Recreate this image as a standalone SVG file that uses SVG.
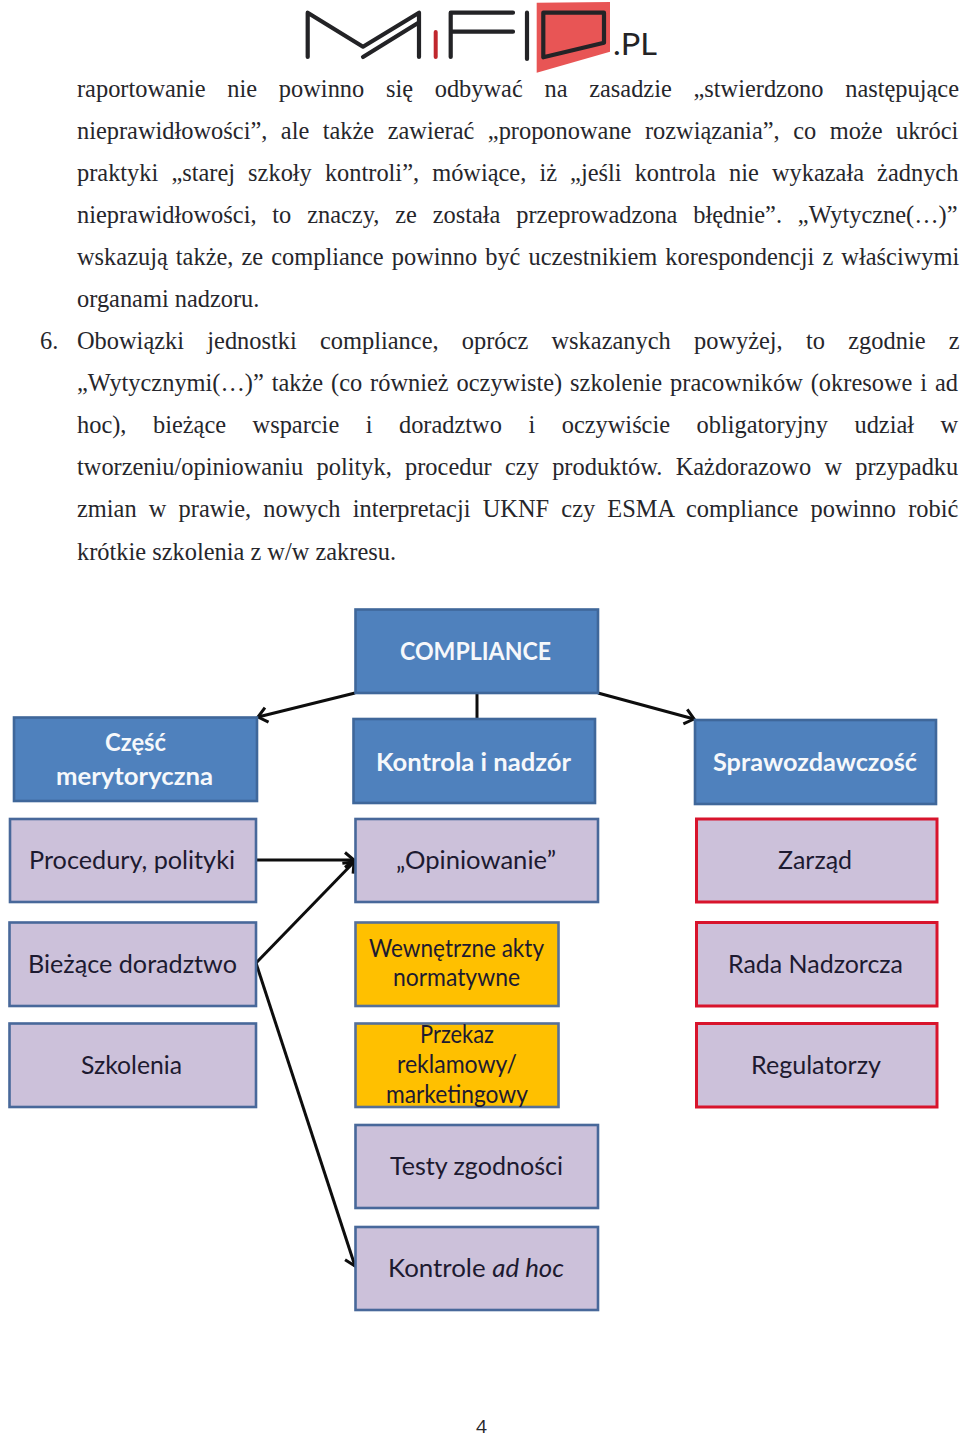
<svg xmlns="http://www.w3.org/2000/svg" width="960" height="1436" viewBox="0 0 960 1436">
<style>
.b{font-family:"Liberation Serif","Times New Roman",serif;font-size:24.4px;fill:#26262b}
.n rect{stroke-width:2.6}
.blue rect{fill:#4f81bd;stroke:#3f679a}
.blue text{fill:#f6f8fb;font-weight:700}
.lil rect{fill:#ccc1da;stroke:#48689a}
.red rect{fill:#ccc1da;stroke:#d8142c;stroke-width:3}
.org rect{fill:#ffc000;stroke:#56709a}
.n text{font-family:Lato,"Open Sans",sans-serif;font-size:25px;fill:#1d1a30}
.blue text{fill:#f6f8fb}
#connectors line{stroke:#0d0d0d;stroke-width:3;fill:none}
.logo{fill:none;stroke:#232326;stroke-width:4.2;stroke-linecap:round;stroke-linejoin:round}
</style>
<defs>
<marker id="a" markerUnits="userSpaceOnUse" markerWidth="20" markerHeight="20" refX="15" refY="10" orient="auto"><path d="M6 2.5L15 10L6 17.5" fill="none" stroke="#0d0d0d" stroke-width="3"/></marker>
</defs>
<rect width="960" height="1436" fill="#fff"/>
<g id="logo">
<polygon points="536.7,2.7 610,2 610,51.7 536.7,72.7" fill="#e85555"/>
<path class="logo" d="M307.7 57V12.7L363 46.7L419 12.7V57M363 57L418 23"/>
<path d="M435.7 32V57" fill="none" stroke="#c0272d" stroke-width="4" stroke-linecap="round"/>
<path class="logo" d="M450.7 57V12.7H513M450.7 31.7H513M527 12.7V59"/>
<path class="logo" d="M543.3 12.7H604V42.7L543.3 57.3Z"/>
<text x="613" y="54.500" font-family="Lato,'Open Sans',sans-serif" font-size="30" fill="#232326" textLength="44" lengthAdjust="spacingAndGlyphs">.PL</text>
</g>
<g id="body">
<text class="b" x="77" y="97" word-spacing="15.6">raportowanie nie powinno się odbywać na zasadzie „stwierdzono następujące</text>
<text class="b" x="77" y="139" word-spacing="7.4">nieprawidłowości”, ale także zawierać „proponowane rozwiązania”, co może ukróci</text>
<text class="b" x="77" y="181" word-spacing="7">praktyki „starej szkoły kontroli”, mówiące, iż „jeśli kontrola nie wykazała żadnych</text>
<text class="b" x="77" y="223" word-spacing="9.75">nieprawidłowości, to znaczy, ze została przeprowadzona błędnie”. „Wytyczne(…)”</text>
<text class="b" x="77" y="265" word-spacing="2">wskazują także, ze compliance powinno być uczestnikiem korespondencji z właściwymi</text>
<text class="b" x="77" y="307">organami nadzoru.</text>
<text class="b" x="40" y="349">6.</text>
<text class="b" x="77" y="349" word-spacing="17.2">Obowiązki jednostki compliance, oprócz wskazanych powyżej, to zgodnie z</text>
<text class="b" x="77" y="391" word-spacing="1.8">„Wytycznymi(…)” także (co również oczywiste) szkolenie pracowników (okresowe i ad</text>
<text class="b" x="77" y="433" word-spacing="20.4">hoc), bieżące wsparcie i doradztwo i oczywiście obligatoryjny udział w</text>
<text class="b" x="77" y="475" word-spacing="7.2">tworzeniu/opiniowaniu polityk, procedur czy produktów. Każdorazowo w przypadku</text>
<text class="b" x="77" y="517" word-spacing="6.1">zmian w prawie, nowych interpretacji UKNF czy ESMA compliance powinno robić</text>
<text class="b" x="77" y="559.500">krótkie szkolenia z w/w zakresu.</text>
<text x="476" y="1432.500" font-family="'Open Sans',sans-serif" font-size="19" fill="#26262b">4</text>
</g>
<g id="connectors">
<line x1="355" y1="693" x2="258" y2="717" marker-end="url(#a)"/>
<line x1="477" y1="693" x2="477" y2="718"/>
<line x1="598" y1="693" x2="694" y2="719" marker-end="url(#a)"/>
<line x1="256" y1="860" x2="354" y2="860" marker-end="url(#a)"/>
<line x1="256" y1="963" x2="354" y2="862" marker-end="url(#a)"/>
<line x1="256" y1="963" x2="355" y2="1266" marker-end="url(#a)"/>
</g>
<g id="compliance" class="n blue"><rect x="355.500" y="609.500" width="242.500" height="83.500"/><text x="400" y="660" textLength="151" lengthAdjust="spacingAndGlyphs">COMPLIANCE</text></g>
<g id="czesc" class="n blue"><rect x="14" y="717.500" width="243" height="83.500"/><text x="105" y="751" textLength="61" lengthAdjust="spacingAndGlyphs">Część</text><text x="56" y="785" textLength="157" lengthAdjust="spacingAndGlyphs">merytoryczna</text></g>
<g id="kontrola" class="n blue"><rect x="353.500" y="719" width="241.500" height="84"/><text x="376" y="771" textLength="195" lengthAdjust="spacingAndGlyphs">Kontrola i nadzór</text></g>
<g id="sprawozdawczosc" class="n blue"><rect x="695" y="720" width="241" height="84"/><text x="713" y="771" textLength="204" lengthAdjust="spacingAndGlyphs">Sprawozdawczość</text></g>
<g id="procedury" class="n lil"><rect x="10" y="819" width="246" height="83"/><text x="29" y="869" textLength="206" lengthAdjust="spacingAndGlyphs">Procedury, polityki</text></g>
<g id="opiniowanie" class="n lil"><rect x="355.500" y="819" width="242.500" height="83"/><text x="396" y="869" textLength="160" lengthAdjust="spacingAndGlyphs">„Opiniowanie”</text></g>
<g id="zarzad" class="n red"><rect x="696.500" y="819" width="240.500" height="83"/><text x="778" y="869" textLength="74" lengthAdjust="spacingAndGlyphs">Zarząd</text></g>
<g id="doradztwo" class="n lil"><rect x="9.500" y="922.500" width="246.500" height="83.500"/><text x="28" y="973" textLength="209" lengthAdjust="spacingAndGlyphs">Bieżące doradztwo</text></g>
<g id="akty" class="n org"><rect x="355.500" y="922.500" width="203" height="83.500"/><text x="369" y="957" textLength="175" lengthAdjust="spacingAndGlyphs">Wewnętrzne akty</text><text x="393" y="986" textLength="127" lengthAdjust="spacingAndGlyphs">normatywne</text></g>
<g id="rada" class="n red"><rect x="696.500" y="922.500" width="240.500" height="83.500"/><text x="728" y="973" textLength="175" lengthAdjust="spacingAndGlyphs">Rada Nadzorcza</text></g>
<g id="szkolenia" class="n lil"><rect x="9.500" y="1023.500" width="246.500" height="83.500"/><text x="81" y="1074" textLength="101" lengthAdjust="spacingAndGlyphs">Szkolenia</text></g>
<g id="przekaz" class="n org"><rect x="355.500" y="1023.500" width="203" height="83.500"/><text x="420" y="1043" textLength="74" lengthAdjust="spacingAndGlyphs">Przekaz</text><text x="397" y="1073" textLength="120" lengthAdjust="spacingAndGlyphs">reklamowy/</text><text x="386" y="1103" textLength="142" lengthAdjust="spacingAndGlyphs">marketingowy</text></g>
<g id="regulatorzy" class="n red"><rect x="696.500" y="1023.500" width="240.500" height="83.500"/><text x="751" y="1074" textLength="130" lengthAdjust="spacingAndGlyphs">Regulatorzy</text></g>
<g id="testy" class="n lil"><rect x="355.500" y="1125" width="242.500" height="83"/><text x="390" y="1175" textLength="173" lengthAdjust="spacingAndGlyphs">Testy zgodności</text></g>
<g id="kontrole" class="n lil"><rect x="355.500" y="1227" width="242.500" height="83"/><text x="388" y="1277" textLength="176" lengthAdjust="spacingAndGlyphs">Kontrole <tspan font-style="italic">ad hoc</tspan></text></g>
</svg>
